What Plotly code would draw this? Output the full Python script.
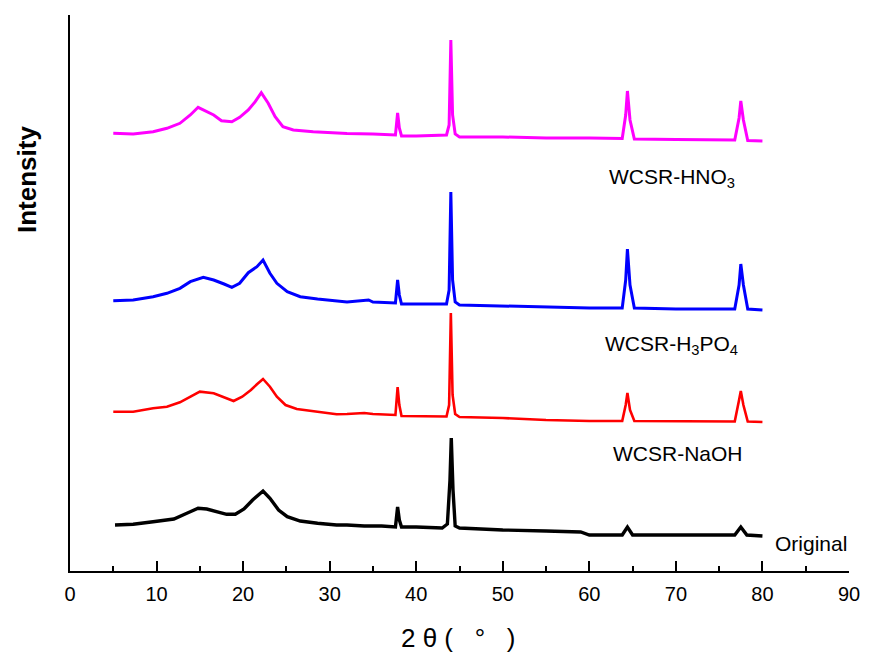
import plotly.graph_objects as go

# 2-theta positions and offset intensities (arbitrary units)
x_orig = [5.2, 7.3, 9.6, 12.0, 13.5, 14.8, 15.8, 17.0, 18.1, 19.1, 20.1, 21.1, 21.8, 22.3, 23.1, 24.1, 25.1, 26.6,
          28.6, 30.8, 32, 34, 36, 37.6, 37.85, 38.05, 38.3, 40, 43, 43.6, 43.9, 44.05, 44.25, 44.5, 45, 50, 55, 59, 60,
          63.8, 64.4, 65, 70, 76.8, 77.5, 78.2, 80]
y_orig = [46, 46.7, 49.3, 52, 57.7, 62.7, 62, 59.3, 56.7, 56.7, 62, 71, 76.7, 80, 72.7, 61, 54.3, 50,
          47.7, 46, 46, 45, 45, 44, 64, 51, 44, 44, 43, 47, 91, 133, 81, 45, 43, 41, 40, 39, 36,
          36, 44, 36, 36, 36, 44, 36, 35]

x_naoh = [5.0, 7.3, 9.6, 11.2, 12.7, 13.9, 15.0, 16.6, 17.8, 18.9, 19.9, 20.9, 21.6, 22.3, 23.1, 23.9, 24.9, 26.2,
          28.6, 30.8, 32, 34, 35, 37.6, 37.85, 38.05, 38.3, 40, 43.5, 43.8, 44.0, 44.2, 44.5, 45, 50, 55, 60, 63.8,
          64.2, 64.4, 64.7, 65.2, 70, 76.8, 77.3, 77.5, 77.8, 78.3, 80]
y_naoh = [159.3, 159.3, 162.7, 164.3, 168.7, 174.3, 179.3, 177.7, 173.3, 170, 174.3, 181, 186.7, 192, 184.3, 174.3,
          166, 162, 159.3, 156.7, 157, 158, 157, 156, 184, 166, 155, 155, 154.5, 166, 258, 176, 157, 154, 153, 151,
          150, 150, 166, 178, 161, 150, 149.5, 149.5, 171, 180, 166, 149.5, 149]

x_h3po4 = [5.0, 7.3, 9.6, 11.2, 12.7, 13.9, 15.4, 16.6, 17.8, 18.7, 19.6, 20.6, 21.6, 22.3, 23.1, 23.9, 25.1, 26.6,
           28.6, 30.8, 32, 34.5, 35, 37.6, 37.85, 38.05, 38.3, 40, 43.5, 43.8, 44.0, 44.2, 44.5, 45, 50, 55, 60, 63.8,
           64.2, 64.4, 64.7, 65.2, 70, 76.8, 77.3, 77.5, 77.8, 78.3, 80]
y_h3po4 = [270.3, 271, 274.3, 277.7, 282.7, 289.3, 293.7, 291, 287, 283.7, 287.7, 298.3, 304.3, 311, 297.7, 287.7,
           279.3, 274.3, 272, 270.3, 269, 271, 269, 268, 291, 276, 267, 267, 267, 281, 379, 291, 269, 266, 265, 264,
           263, 263, 291, 322, 286, 263, 262, 262, 286, 307, 286, 262, 261]

x_hno3 = [5.0, 7.3, 9.6, 11.2, 12.7, 13.9, 14.8, 15.8, 16.6, 17.5, 18.7, 19.6, 20.6, 21.4, 22.1, 22.9, 23.7, 24.6,
          25.8, 28.1, 30.8, 32, 35, 37.6, 37.85, 38.05, 38.3, 40, 43.5, 43.8, 44.0, 44.2, 44.5, 45, 50, 55, 60, 63.8,
          64.2, 64.4, 64.7, 65.2, 70, 76.8, 77.3, 77.5, 77.8, 78.3, 80]
y_hno3 = [437.7, 437, 439.3, 442.7, 447.7, 456, 463.7, 459.3, 456, 450.3, 449.3, 453.7, 461, 469.3, 478.3, 467.7,
          454.3, 444.3, 441, 439.3, 437.7, 437.5, 437, 436, 458, 443, 435, 435, 436, 446, 531, 456, 437, 434, 434,
          433, 433, 432.5, 456, 480, 451, 432, 431.5, 431, 453, 470, 451, 430.5, 430]

x_ticks = [0, 10, 20, 30, 40, 50, 60, 70, 80, 90]
labels = ["WCSR-HNO<sub>3</sub>", "WCSR-H<sub>3</sub>PO<sub>4</sub>", "WCSR-NaOH", "Original"]
x_title = "2 θ (\u00a0\u00a0\u00a0°\u00a0\u00a0\u00a0)"
y_title = "<b>Intensity</b>"

FONT = "Arial, Liberation Sans, sans-serif"

fig = go.Figure()
series = [
    (x_orig, y_orig, "black", 3.4),
    (x_naoh, y_naoh, "#FF0000", 2.6),
    (x_h3po4, y_h3po4, "#0000FF", 3.0),
    (x_hno3, y_hno3, "#FF00FF", 3.0),
]
for xs, ys, col, w in series:
    fig.add_trace(go.Scatter(x=xs, y=ys, mode="lines", line=dict(color=col, width=w), showlegend=False))

ann_pos = [(69.5, 393, "center"), (69.5, 226, "center"), (70.2, 118, "center"), (81.2, 28, "left")]
for (ax, ay, al), t in zip(ann_pos, labels):
    fig.add_annotation(x=ax, y=ay, xref="x", yref="y", text=t, showarrow=False,
                       xanchor=al, yanchor="middle", font=dict(family=FONT, size=21, color="black"))

# axis titles
fig.add_annotation(x=0.498, y=-0.121, xref="paper", yref="paper", text=x_title, showarrow=False,
                   xanchor="center", yanchor="middle", font=dict(family=FONT, size=26, color="black"))
fig.add_annotation(x=-0.0552, y=0.705, xref="paper", yref="paper", text=y_title, showarrow=False,
                   textangle=-90, xanchor="center", yanchor="middle",
                   font=dict(family=FONT, size=26, color="black"))

fig.update_layout(
    width=869, height=656,
    margin=dict(l=62, r=28, t=7, b=93),
    plot_bgcolor="white", paper_bgcolor="white",
    font=dict(family=FONT, color="black"),
)
fig.update_xaxes(
    range=[0, 90], showgrid=False, zeroline=False, automargin=False,
    showline=True, linecolor="black", linewidth=2,
    tickmode="array", tickvals=x_ticks, ticktext=[str(v) for v in x_ticks],
    ticks="inside", ticklen=10, tickwidth=2, tickcolor="black",
    minor=dict(ticks="inside", ticklen=5, tickwidth=2, tickcolor="black", dtick=5, tick0=0, showgrid=False),
    tickfont=dict(family=FONT, size=20, color="black"),
    ticklabelstandoff=4,
)
fig.update_yaxes(
    range=[0, 556], showgrid=False, zeroline=False, automargin=False,
    showline=True, linecolor="black", linewidth=2,
    showticklabels=False, ticks="",
)

fig.write_html("out.html")
